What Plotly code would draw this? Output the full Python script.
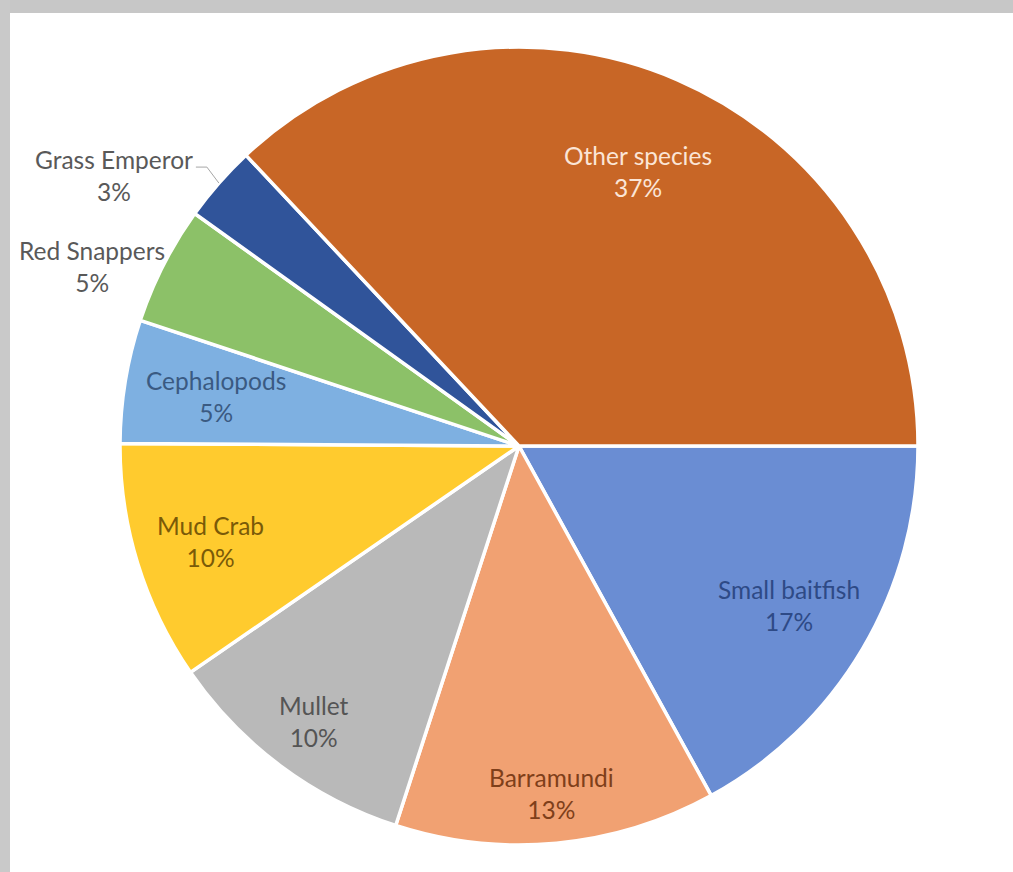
import math
import plotly.graph_objects as go

# ---- data ----
labels = ["Small baitfish", "Barramundi", "Mullet", "Mud Crab",
          "Cephalopods", "Red Snappers", "Grass Emperor", "Other species"]
values = [17.0, 13.0, 10.4, 9.7, 5.0, 4.8, 3.1, 37.0]
colors = ["#6a8dd3", "#f1a172", "#b9b9b9", "#ffcb2e",
          "#7eb0e1", "#8cc168", "#30549a", "#c86626"]
text_colors = ["#2e4a86", "#7f3f1a", "#555555", "#7a5a08",
               "#3a5a82", "#595959", "#595959", "#fbe5d6"]
label_radius = [0.785, 0.875, 0.86, 0.81, 0.77, 1.16, 1.22, 0.75]
label_angle_shift = [0, 0, 0, 0, 0, -4.2, -7.5, 0]

# ---- layout geometry (pixels) ----
W, H = 1013, 872
CX, CY, R = 519, 446, 399
ROT = 90  # first slice starts at 3 o'clock, clockwise

def px_to_paper(x, y):
    return x / W, 1 - y / H

fig = go.Figure()
fig.add_trace(go.Pie(
    labels=labels, values=values, sort=False, direction="clockwise",
    rotation=ROT, textinfo="none", hoverinfo="label+percent",
    marker=dict(colors=colors, line=dict(color="white", width=3.5)),
    domain=dict(x=[(CX - R) / W, (CX + R) / W],
                y=[(H - CY - R) / H, (H - CY + R) / H]),
    showlegend=False,
))

total = sum(values)
cum = 0.0
annotations = []
shapes = []
for i, (lab, v) in enumerate(zip(labels, values)):
    mid = cum + v / 2
    cum += v
    theta = math.radians(ROT + 360 * mid / total + label_angle_shift[i])
    r = R * label_radius[i]
    x = CX + r * math.sin(theta)
    y = CY - r * math.cos(theta)
    pct = round(100 * v / total)
    xp, yp = px_to_paper(x, y)
    annotations.append(dict(
        x=xp, y=yp, xref="paper", yref="paper", showarrow=False,
        xanchor="center", yanchor="middle",
        text=f"{lab}<br>{pct}%", align="center",
        font=dict(family="Lato", size=24.5, color=text_colors[i]),
    ))
    if lab == "Grass Emperor":
        tm = math.radians(ROT + 360 * mid / total)
        ex = CX + R * math.sin(tm)
        ey = CY - R * math.cos(tm)
        pts = [(ex, ey), (ex - 12, ey - 16), (ex - 23, ey - 16)]
        path = "M " + " L ".join(
            f"{px_to_paper(a, b)[0]},{px_to_paper(a, b)[1]}" for a, b in pts)
        shapes.append(dict(type="path", xref="paper", yref="paper", path=path,
                           line=dict(color="#a6a6a6", width=1)))

# gray frame bands (top & left)
shapes.append(dict(type="rect", xref="paper", yref="paper", x0=0, x1=1,
                   y0=1 - 13 / H, y1=1, fillcolor="#c7c7c7", line_width=0,
                   layer="below"))
shapes.append(dict(type="rect", xref="paper", yref="paper", x0=0, x1=10 / W,
                   y0=0, y1=1, fillcolor="#c9c9c9", line_width=0, layer="below"))

fig.update_layout(
    width=W, height=H, margin=dict(l=0, r=0, t=0, b=0),
    paper_bgcolor="white", plot_bgcolor="white",
    annotations=annotations, shapes=shapes,
)
fig.write_html("out.html")
